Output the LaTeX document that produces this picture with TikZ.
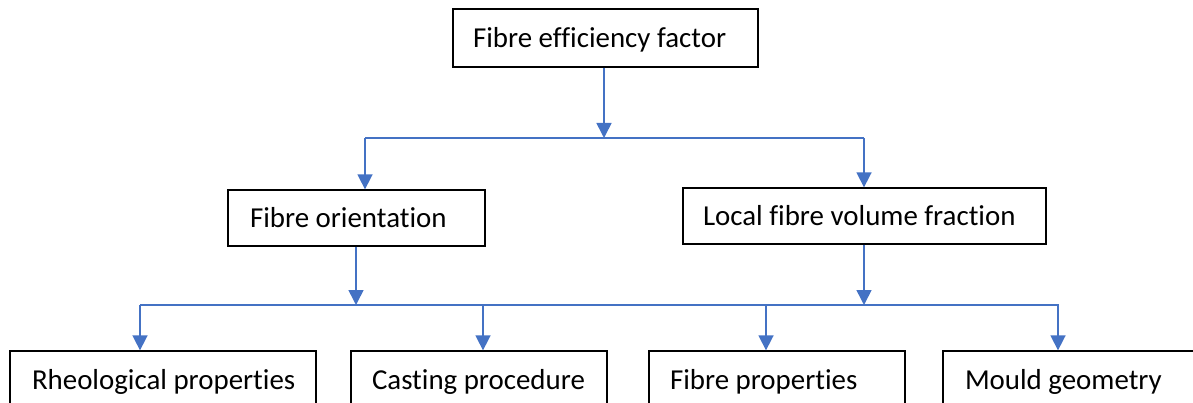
\documentclass[tikz,border=0pt]{standalone}
\usepackage{fontspec}
\setmainfont{Carlito}[Ligatures=CommonOff]
\usetikzlibrary{arrows.meta}
\definecolor{linkblue}{HTML}{4472C4}
\begin{document}
\begin{tikzpicture}[x=1pt,y=-1pt,
  box/.style={draw=black, line width=1.3pt, font=\fontsize{28.9}{32}\selectfont,
    text height=18.6pt, text depth=0pt, inner ysep=0pt},
  link/.style={draw=linkblue, line width=1.6pt},
  arr/.style={link, -{Triangle[width=15pt,length=15pt]}}]
\useasboundingbox (0,0) rectangle (1193,403);
\clip (0,0) rectangle (1193,403);
% nodes
\node[box, minimum width=305pt, minimum height=58pt, inner xsep=20pt] (top) at (605.5,38) {\makebox[265pt][l]{Fibre efficiency factor}};
\node[box, minimum width=257pt, minimum height=56pt, inner xsep=22pt] (fo) at (356.5,218) {\makebox[213pt][l]{Fibre orientation}};
\node[box, minimum width=363pt, minimum height=56pt, inner xsep=20pt] (lf) at (864.5,216) {\makebox[323pt][l]{Local fibre volume fraction}};
\node[box, minimum width=306pt, minimum height=58pt, inner xsep=22pt] (rh) at (163,380) {\makebox[262pt][l]{Rheological properties}};
\node[box, minimum width=256pt, minimum height=58pt, inner xsep=21pt] (cp) at (479,380) {\makebox[214pt][l]{Casting procedure}};
\node[box, minimum width=256pt, minimum height=58pt, inner xsep=21pt] (fp) at (777,380) {\makebox[214pt][l]{Fibre properties}};
\node[box, minimum width=256pt, minimum height=58pt, inner xsep=22pt] (mg) at (1071,380) {\makebox[212pt][l]{Mould geometry}};
% junction coordinates
\coordinate (j1) at (604,138);
\coordinate (j1l) at (365,138);
\coordinate (j1r) at (864,138);
\coordinate (j2l) at (140,305);
\coordinate (j2r) at (1059,305);
\coordinate (j2a) at (356,305);
\coordinate (j2b) at (864,305);
\coordinate (d1) at (140,305);
\coordinate (d2) at (483,305);
\coordinate (d3) at (766,305);
\coordinate (d4) at (1058,305);
% connectors
\draw[arr] (top.south -| j1) -- (j1);
\draw[link] (j1l) -- (j1r);
\draw[arr] (j1l) -- (j1l |- fo.north);
\draw[arr] (j1r) -- (j1r |- lf.north);
\draw[arr] (fo.south -| j2a) -- (j2a);
\draw[arr] (lf.south -| j2b) -- (j2b);
\draw[link] (j2l) -- (j2r);
\draw[arr] (d1) -- (d1 |- rh.north);
\draw[arr] (d2) -- (d2 |- cp.north);
\draw[arr] (d3) -- (d3 |- fp.north);
\draw[arr] (d4) -- (d4 |- mg.north);
\end{tikzpicture}
\end{document}
